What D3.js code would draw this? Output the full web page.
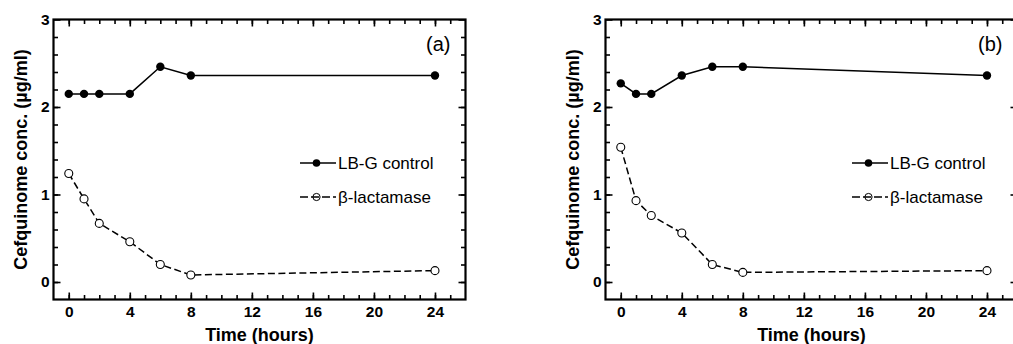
<!DOCTYPE html>
<html>
<head>
<meta charset="utf-8">
<script src="https://cdn.jsdelivr.net/npm/d3@7"></script>
<style>
  body { margin: 0; background: #fff; }
  svg { display: block; font-family: "Liberation Sans", Arial, sans-serif; }
</style>
</head>
<body>
<svg id="chart" width="1013" height="344"></svg>
<script>
// sampling times (hours)
var hours = [0, 1, 2, 4, 6, 8, 24];

// panel (a)
var controlA = [2.15, 2.15, 2.15, 2.15, 2.46, 2.36, 2.36];
var betaA    = [1.24, 0.95, 0.67, 0.46, 0.20, 0.08, 0.13];

// panel (b)
var controlB = [2.27, 2.15, 2.15, 2.36, 2.46, 2.46, 2.36];
var betaB    = [1.54, 0.93, 0.76, 0.56, 0.20, 0.11, 0.13];

var panelLabels = ["(a)", "(b)"];
var seriesNames = ["LB-G control", "\u03b2-lactamase"];
var xTicks = [0, 4, 8, 12, 16, 20, 24];
var yTicks = [0, 1, 2, 3];

var svg = d3.select("#chart");
var top_ = 19.5, bottom = 299.5, plotW = 412;
var lefts = [53.5, 605.5];

var panels = [
  {ctl: controlA, beta: betaA, label: panelLabels[0]},
  {ctl: controlB, beta: betaB, label: panelLabels[1]}
];

panels.forEach(function(p, idx){
  var left = lefts[idx];
  var x = d3.scaleLinear().domain([-1, 26]).range([left, left + plotW]);
  var y = d3.scaleLinear().domain([-0.2, 3]).range([bottom, top_]);
  var g = svg.append("g");

  var minorX = d3.range(0, 26);
  var minorY = d3.range(0, 15).map(function(i){ return +(i * 0.2).toFixed(1); });

  // minor ticks (all four sides)
  g.append("g").attr("transform", "translate(0," + bottom + ")")
    .call(d3.axisBottom(x).tickValues(minorX).tickSize(-4.5).tickFormat(""));
  g.append("g").attr("transform", "translate(0," + top_ + ")")
    .call(d3.axisTop(x).tickValues(minorX).tickSize(-4.5).tickFormat(""));
  g.append("g").attr("transform", "translate(" + left + ",0)")
    .call(d3.axisLeft(y).tickValues(minorY).tickSize(-4.5).tickFormat(""));
  g.append("g").attr("transform", "translate(" + (left + plotW) + ",0)")
    .call(d3.axisRight(y).tickValues(minorY).tickSize(-4.5).tickFormat(""));

  // major ticks with labels
  g.append("g").attr("transform", "translate(0," + bottom + ")")
    .call(d3.axisBottom(x).tickValues(xTicks).tickSize(-7).tickPadding(6).tickFormat(d3.format("d")));
  g.append("g").attr("transform", "translate(0," + top_ + ")")
    .call(d3.axisTop(x).tickValues(xTicks).tickSize(-7).tickFormat(""));
  g.append("g").attr("transform", "translate(" + left + ",0)")
    .call(d3.axisLeft(y).tickValues(yTicks).tickSize(-7).tickPadding(4).tickFormat(d3.format("d")));
  g.append("g").attr("transform", "translate(" + (left + plotW) + ",0)")
    .call(d3.axisRight(y).tickValues(yTicks).tickSize(-7).tickFormat(""));

  g.selectAll(".domain").remove();
  g.selectAll(".tick line").attr("stroke", "#000").attr("stroke-width", 1.6);
  g.selectAll(".tick text").attr("fill", "#000")
    .style("font-size", "15.5px").style("font-weight", "bold")
    .style("font-family", "'Liberation Sans', Arial, sans-serif");

  // frame
  g.append("rect")
    .attr("x", left).attr("y", top_)
    .attr("width", plotW).attr("height", bottom - top_)
    .attr("fill", "none").attr("stroke", "#000").attr("stroke-width", 2.2);

  // axis titles
  g.append("text")
    .attr("transform", "translate(" + (left - 33) + "," + ((top_ + bottom) / 2) + ") rotate(-90)")
    .attr("text-anchor", "middle").attr("dominant-baseline", "central")
    .style("font-size", "18px").style("font-weight", "bold")
    .text("Cefquinome conc. (\u00b5g/ml)");
  g.append("text")
    .attr("x", left + plotW / 2).attr("y", 341)
    .attr("text-anchor", "middle")
    .style("font-size", "18px").style("font-weight", "bold")
    .text("Time (hours)");

  g.append("text")
    .attr("x", left + 397).attr("y", 51)
    .attr("text-anchor", "end")
    .style("font-size", "20px")
    .text(p.label);

  var line = d3.line()
    .x(function(d){ return x(d[0]); })
    .y(function(d){ return y(d[1]); });

  var ctlPts = d3.zip(hours, p.ctl);
  var betaPts = d3.zip(hours, p.beta);

  g.append("path").datum(betaPts).attr("d", line)
    .attr("fill", "none").attr("stroke", "#000").attr("stroke-width", 1.5)
    .attr("stroke-dasharray", "7,3.5");
  g.selectAll(".beta").data(betaPts).enter().append("circle")
    .attr("cx", function(d){ return x(d[0]); })
    .attr("cy", function(d){ return y(d[1]); })
    .attr("r", 4).attr("fill", "#fff").attr("stroke", "#000").attr("stroke-width", 1.1);

  g.append("path").datum(ctlPts).attr("d", line)
    .attr("fill", "none").attr("stroke", "#000").attr("stroke-width", 1.5);
  g.selectAll(".ctl").data(ctlPts).enter().append("circle")
    .attr("cx", function(d){ return x(d[0]); })
    .attr("cy", function(d){ return y(d[1]); })
    .attr("r", 4.2).attr("fill", "#000");

  // legend
  var lx = left + 246.5;
  var ly = [163, 197];
  g.append("line").attr("x1", lx).attr("x2", lx + 36).attr("y1", ly[0]).attr("y2", ly[0])
    .attr("stroke", "#000").attr("stroke-width", 1.5);
  g.append("circle").attr("cx", lx + 16.5).attr("cy", ly[0]).attr("r", 3.8).attr("fill", "#000");
  g.append("line").attr("x1", lx).attr("x2", lx + 36).attr("y1", ly[1]).attr("y2", ly[1])
    .attr("stroke", "#000").attr("stroke-width", 1.3).attr("stroke-dasharray", "8,3");
  g.append("circle").attr("cx", lx + 16.5).attr("cy", ly[1]).attr("r", 3.6)
    .attr("fill", "none").attr("stroke", "#000").attr("stroke-width", 1);
  seriesNames.forEach(function(name, i){
    g.append("text").attr("x", lx + 38).attr("y", ly[i])
      .attr("dominant-baseline", "central")
      .style("font-size", "17px")
      .text(name);
  });
});
</script>
</body>
</html>
